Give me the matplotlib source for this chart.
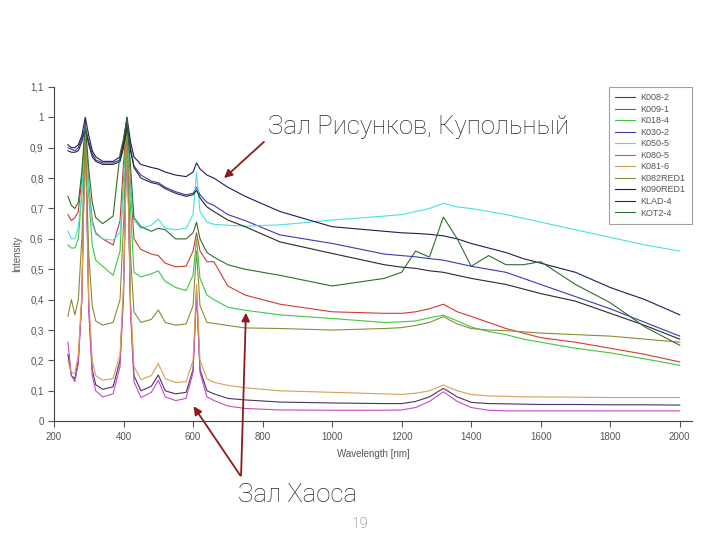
import matplotlib
matplotlib.use('Agg')
import matplotlib.pyplot as plt

plt.rcParams['font.family'] = ['Liberation Sans', 'DejaVu Sans']

# длины волн (общая сетка для всех спектров)
wl = [240, 250, 260, 270, 280, 290, 300, 310, 320, 340, 370, 390, 400, 410, 420, 430,
      450, 480, 500, 520, 550, 580, 600, 610, 620, 640, 660, 700, 750, 850, 1000,
      1150, 1200, 1240, 1280, 1320, 1360, 1400, 1450, 1500, 1550, 1600, 1700, 1800,
      1900, 2000]

k008_2 = [0.22, 0.15, 0.14, 0.20, 0.40, 0.99, 0.38, 0.17, 0.12, 0.105, 0.113, 0.20, 0.43,
          0.97, 0.38, 0.15, 0.10, 0.115, 0.152, 0.10, 0.09, 0.095, 0.17, 0.43, 0.17, 0.10,
          0.09, 0.075, 0.07, 0.063, 0.06, 0.058, 0.058, 0.065, 0.08, 0.108, 0.08, 0.062,
          0.058, 0.057, 0.056, 0.055, 0.055, 0.054, 0.054, 0.053]
k009_1 = [0.68, 0.66, 0.67, 0.69, 0.80, 0.96, 0.78, 0.66, 0.62, 0.60, 0.58, 0.66, 0.85,
          0.99, 0.78, 0.60, 0.565, 0.55, 0.545, 0.52, 0.508, 0.51, 0.56, 0.62, 0.56, 0.525,
          0.525, 0.445, 0.415, 0.385, 0.36, 0.355, 0.355, 0.36, 0.37, 0.385, 0.36, 0.345,
          0.325, 0.305, 0.29, 0.275, 0.26, 0.24, 0.22, 0.195]
k018_4 = [0.58, 0.57, 0.57, 0.60, 0.75, 0.95, 0.74, 0.58, 0.53, 0.51, 0.48, 0.56, 0.80,
          0.98, 0.70, 0.49, 0.475, 0.485, 0.495, 0.46, 0.44, 0.43, 0.48, 0.60, 0.47, 0.415,
          0.40, 0.375, 0.365, 0.35, 0.338, 0.325, 0.327, 0.33, 0.34, 0.349, 0.33, 0.31,
          0.295, 0.285, 0.27, 0.26, 0.24, 0.225, 0.205, 0.184]
k030_2 = [0.90, 0.895, 0.89, 0.90, 0.93, 0.97, 0.92, 0.88, 0.86, 0.85, 0.85, 0.86, 0.91,
          0.98, 0.90, 0.84, 0.81, 0.79, 0.785, 0.77, 0.755, 0.745, 0.75, 0.77, 0.745, 0.72,
          0.71, 0.68, 0.66, 0.613, 0.585, 0.55, 0.545, 0.541, 0.535, 0.53, 0.52, 0.51,
          0.50, 0.49, 0.47, 0.45, 0.41, 0.37, 0.325, 0.28]
k050_5 = [0.625, 0.60, 0.60, 0.64, 0.75, 0.92, 0.76, 0.65, 0.615, 0.60, 0.596, 0.62, 0.75,
          0.94, 0.76, 0.66, 0.635, 0.645, 0.665, 0.635, 0.63, 0.635, 0.68, 0.82, 0.69, 0.655,
          0.648, 0.645, 0.642, 0.646, 0.662, 0.675, 0.68, 0.69, 0.70, 0.717, 0.705, 0.70,
          0.69, 0.68, 0.668, 0.655, 0.63, 0.605, 0.58, 0.56]
k080_5 = [0.26, 0.15, 0.13, 0.19, 0.40, 0.97, 0.36, 0.15, 0.10, 0.08, 0.09, 0.18, 0.41,
          0.96, 0.36, 0.13, 0.078, 0.095, 0.135, 0.08, 0.068, 0.075, 0.16, 0.42, 0.16, 0.08,
          0.068, 0.05, 0.042, 0.037, 0.036, 0.036, 0.037, 0.045, 0.065, 0.097, 0.065, 0.045,
          0.036, 0.034, 0.034, 0.034, 0.034, 0.034, 0.034, 0.034]
k081_6 = [0.20, 0.16, 0.157, 0.22, 0.42, 0.97, 0.40, 0.20, 0.15, 0.135, 0.14, 0.22, 0.45,
          0.95, 0.40, 0.18, 0.137, 0.15, 0.19, 0.14, 0.127, 0.13, 0.20, 0.45, 0.20, 0.14,
          0.128, 0.118, 0.11, 0.10, 0.095, 0.09, 0.088, 0.092, 0.10, 0.119, 0.10, 0.088,
          0.083, 0.082, 0.08, 0.08, 0.079, 0.078, 0.078, 0.078]
k082red1 = [0.345, 0.40, 0.35, 0.40, 0.60, 0.93, 0.55, 0.38, 0.33, 0.316, 0.325, 0.40, 0.65,
            0.97, 0.55, 0.36, 0.325, 0.335, 0.366, 0.325, 0.316, 0.32, 0.38, 0.56, 0.38,
            0.325, 0.322, 0.315, 0.307, 0.305, 0.30, 0.305, 0.308, 0.315, 0.325, 0.344, 0.32,
            0.305, 0.30, 0.298, 0.294, 0.29, 0.285, 0.28, 0.27, 0.26]
k090red1 = [0.91, 0.90, 0.90, 0.91, 0.94, 1.00, 0.94, 0.89, 0.87, 0.855, 0.855, 0.87, 0.92,
            1.00, 0.92, 0.87, 0.845, 0.835, 0.83, 0.82, 0.81, 0.805, 0.82, 0.85, 0.83, 0.81,
            0.80, 0.77, 0.74, 0.69, 0.64, 0.625, 0.62, 0.618, 0.615, 0.61, 0.60, 0.585, 0.57,
            0.555, 0.535, 0.52, 0.49, 0.44, 0.40, 0.35]
klad_4 = [0.89, 0.885, 0.885, 0.89, 0.92, 0.96, 0.91, 0.87, 0.855, 0.845, 0.845, 0.855, 0.90,
          0.97, 0.89, 0.835, 0.80, 0.785, 0.78, 0.765, 0.75, 0.74, 0.745, 0.76, 0.735, 0.705,
          0.69, 0.662, 0.64, 0.59, 0.552, 0.515, 0.507, 0.503, 0.495, 0.49, 0.48, 0.47, 0.46,
          0.45, 0.435, 0.42, 0.395, 0.355, 0.315, 0.27]
kot2_4 = [0.74, 0.71, 0.70, 0.72, 0.82, 0.98, 0.83, 0.72, 0.67, 0.65, 0.675, 0.88, 0.93,
          1.00, 0.84, 0.67, 0.64, 0.625, 0.635, 0.63, 0.60, 0.60, 0.62, 0.655, 0.60, 0.555,
          0.54, 0.515, 0.50, 0.48, 0.445, 0.47, 0.49, 0.56, 0.54, 0.672, 0.60, 0.51, 0.545,
          0.515, 0.515, 0.525, 0.45, 0.39, 0.31, 0.25]

names = ['K008-2', 'K009-1', 'K018-4', 'K030-2', 'K050-5', 'K080-5', 'K081-6',
         'K082RED1', 'K090RED1', 'KLAD-4', 'KOT2-4']
series = [k008_2, k009_1, k018_4, k030_2, k050_5, k080_5, k081_6,
          k082red1, k090red1, klad_4, kot2_4]
colors = ['#4a3462', '#d23a32', '#3cc840', '#3a3ab4', '#48e0e0', '#c848c8', '#d8a050',
          '#8c8c34', '#1c1c5c', '#2a2a2a', '#2e6e2e']

yticks = [0, 0.1, 0.2, 0.3, 0.4, 0.5, 0.6, 0.7, 0.8, 0.9, 1.0, 1.1]
ytick_labels = ['0', '0,1', '0,2', '0,3', '0,4', '0,5', '0,6', '0,7', '0,8', '0,9', '1', '1,1']
xticks = [200, 400, 600, 800, 1000, 1200, 1400, 1600, 1800, 2000]

fig = plt.figure(figsize=(7.2, 5.4), dpi=100)
ax = fig.add_axes([0.075, 0.22, 0.886, 0.619])

for name, y, c in zip(names, series, colors):
    ax.plot(wl, y, color=c, lw=0.8, label=name)

ax.set_xlim(200, 2035)
ax.set_ylim(0, 1.1)
ax.set_xticks(xticks)
ax.set_yticks(yticks)
ax.set_yticklabels(ytick_labels)
ax.tick_params(labelsize=7, colors='#555555', length=4, width=0.8)
for s in ['top', 'right']:
    ax.spines[s].set_visible(False)
for s in ['left', 'bottom']:
    ax.spines[s].set_color('#444444')
ax.set_xlabel('Wavelength [nm]', fontsize=7, color='#555555', labelpad=5)
ax.set_ylabel('Intensity', fontsize=7, color='#555555', labelpad=6)

leg = ax.legend(loc='upper right', bbox_to_anchor=(1.0, 1.0), fontsize=6.5,
                frameon=True, fancybox=False, handlelength=2.2, labelspacing=0.28,
                borderaxespad=0, borderpad=0.7, handletextpad=0.6)
leg.get_frame().set_edgecolor('#888888')
leg.get_frame().set_linewidth(0.8)
for t in leg.get_texts():
    t.set_color('#555555')

# подписи залов со стрелками
arrow_col = '#8b1c1c'
big = dict(fontsize=18.5, color='#2a2a2a', family=['Roboto', 'DejaVu Sans'], weight='light')
fig.text(268 / 720, 1 - 127 / 540, 'Зал Рисунков, Купольный', ha='left', va='center', **big)
fig.text(238 / 720, 1 - 495 / 540, 'Зал Хаоса', ha='left', va='center', **big)
fig.text(360 / 720, 1 - 524 / 540, '19', ha='center', va='center', fontsize=11,
         color='#666666', family=['Roboto', 'DejaVu Sans'], weight='light')

ap = dict(arrowstyle='-|>', color=arrow_col, lw=1.3, mutation_scale=12)
ax.annotate('', xy=(222 / 720, 1 - 180 / 540), xycoords='figure fraction',
            xytext=(266 / 720, 1 - 140 / 540), textcoords='figure fraction', arrowprops=ap)
ax.annotate('', xy=(192 / 720, 1 - 404 / 540), xycoords='figure fraction',
            xytext=(242 / 720, 1 - 478 / 540), textcoords='figure fraction', arrowprops=ap)
ax.annotate('', xy=(246 / 720, 1 - 310 / 540), xycoords='figure fraction',
            xytext=(241 / 720, 1 - 478 / 540), textcoords='figure fraction', arrowprops=ap)

fig.savefig('out.png', dpi=100)
